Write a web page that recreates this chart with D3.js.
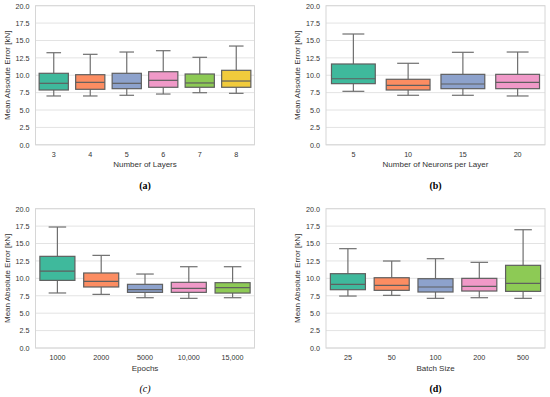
<!DOCTYPE html>
<html>
<head>
<meta charset="utf-8">
<script src="https://cdn.jsdelivr.net/npm/d3@7"></script>
<style>
  body { margin: 0; background: #fff; }
  svg { display: block; }
  text { font-family: "Liberation Sans", Arial, sans-serif; fill: #333; }
  .caption { font-family: "Liberation Serif", "Times New Roman", serif; fill: #000; }
</style>
</head>
<body>
<svg id="chart"></svg>
<script>
// five-number summaries: [low whisker, Q1, median, Q3, high whisker]
var layersCats = ["3", "4", "5", "6", "7", "8"];
var layersStats = [
    [7.02, 7.88, 8.84, 10.28, 13.24],
    [7.02, 7.98, 8.98, 10.08, 13.01],
    [7.12, 8.07, 8.84, 10.28, 13.34],
    [7.30, 8.27, 9.27, 10.51, 13.53],
    [7.49, 8.27, 8.89, 10.18, 12.58],
    [7.40, 8.27, 9.17, 10.71, 14.20]
];

var neuronsCats = ["5", "10", "15", "20"];
var neuronsStats = [
    [7.69, 8.79, 9.50, 11.62, 15.93],
    [7.12, 7.88, 8.55, 9.42, 11.72],
    [7.12, 8.07, 8.74, 10.13, 13.30],
    [7.02, 8.07, 8.98, 10.13, 13.34]
];

var epochsCats = ["1000", "2000", "5000", "10,000", "15,000"];
var epochsStats = [
    [7.90, 9.71, 11.05, 13.16, 17.37],
    [7.70, 8.76, 9.57, 10.77, 13.30],
    [7.22, 7.99, 8.37, 9.14, 10.62],
    [7.13, 7.99, 8.57, 9.43, 11.67],
    [7.22, 7.89, 8.66, 9.38, 11.67]
];

var batchCats = ["25", "50", "100", "200", "500"];
var batchStats = [
    [7.46, 8.37, 9.14, 10.67, 14.26],
    [7.56, 8.28, 9.00, 10.09, 12.49],
    [7.13, 8.04, 8.76, 9.95, 12.82],
    [7.22, 8.18, 8.86, 10.00, 12.30],
    [7.13, 8.13, 9.28, 11.87, 16.98]
];

var yTicks = [0, 2.5, 5, 7.5, 10, 12.5, 15, 17.5, 20];
var palette = ["#3fb99c", "#fc8d62", "#8da2cc", "#f099c8", "#8dca55", "#f1cb3c"];

var svg = d3.select("#chart")
    .attr("width", 550)
    .attr("height", 397);

//box is the pixel rectangle of the plot area
var drawPanel = function (box, cats, stats, xTitle, caption, italicCap) {
    var xScale = d3.scaleBand()
        .domain(cats)
        .range([box.left, box.right]);

    var yScale = d3.scaleLinear()
        .domain([0, 20])
        .range([box.bottom, box.top]);

    var g = svg.append("g");

    // grid
    g.selectAll("line.grid")
        .data(yTicks)
        .enter()
        .append("line")
        .attr("x1", box.left)
        .attr("x2", box.right)
        .attr("y1", function (d) { return yScale(d); })
        .attr("y2", function (d) { return yScale(d); })
        .attr("stroke", "#e3e3e3")
        .attr("stroke-width", 1);

    // frame
    g.append("rect")
        .attr("x", box.left)
        .attr("y", box.top)
        .attr("width", box.right - box.left)
        .attr("height", box.bottom - box.top)
        .attr("fill", "none")
        .attr("stroke", "#d6d6d6")
        .attr("stroke-width", 1);

    var yAxis = d3.axisLeft(yScale)
        .tickValues(yTicks)
        .tickFormat(d3.format(".1f"))
        .tickSize(0)
        .tickPadding(6);

    var ya = g.append("g")
        .attr("transform", "translate(" + box.left + ",0)")
        .call(yAxis);
    ya.select(".domain").remove();
    ya.selectAll("text")
        .attr("font-size", 7.2)
        .attr("font-family", "Liberation Sans, Arial, sans-serif")
        .attr("fill", "#333");

    var xAxis = d3.axisBottom(xScale)
        .tickSize(0)
        .tickPadding(7);

    var xa = g.append("g")
        .attr("transform", "translate(0," + box.bottom + ")")
        .call(xAxis);
    xa.select(".domain").remove();
    xa.selectAll("text")
        .attr("font-size", 7.2)
        .attr("font-family", "Liberation Sans, Arial, sans-serif")
        .attr("fill", "#333");

    var boxes = g.selectAll("g.box")
        .data(stats)
        .enter()
        .append("g")
        .classed("box", true);

    var bw = xScale.bandwidth() * 0.8;
    var cx = function (d, i) { return xScale(cats[i]) + xScale.bandwidth() / 2; };

    // whiskers
    boxes.append("line")
        .attr("x1", cx).attr("x2", cx)
        .attr("y1", function (d) { return yScale(d[4]); })
        .attr("y2", function (d) { return yScale(d[3]); })
        .attr("stroke", "#6f6f6f").attr("stroke-width", 1.2);
    boxes.append("line")
        .attr("x1", cx).attr("x2", cx)
        .attr("y1", function (d) { return yScale(d[1]); })
        .attr("y2", function (d) { return yScale(d[0]); })
        .attr("stroke", "#6f6f6f").attr("stroke-width", 1.2);
    // caps
    [0, 4].forEach(function (k) {
        boxes.append("line")
            .attr("x1", function (d, i) { return cx(d, i) - bw / 4; })
            .attr("x2", function (d, i) { return cx(d, i) + bw / 4; })
            .attr("y1", function (d) { return yScale(d[k]); })
            .attr("y2", function (d) { return yScale(d[k]); })
            .attr("stroke", "#6f6f6f").attr("stroke-width", 1.2);
    });

    boxes.append("rect")
        .attr("x", function (d, i) { return cx(d, i) - bw / 2; })
        .attr("y", function (d) { return yScale(d[3]); })
        .attr("width", bw)
        .attr("height", function (d) { return yScale(d[1]) - yScale(d[3]); })
        .attr("fill", function (d, i) { return palette[i]; })
        .attr("stroke", "#5f5f5f")
        .attr("stroke-width", 1.2);

    boxes.append("line")
        .attr("x1", function (d, i) { return cx(d, i) - bw / 2; })
        .attr("x2", function (d, i) { return cx(d, i) + bw / 2; })
        .attr("y1", function (d) { return yScale(d[2]); })
        .attr("y2", function (d) { return yScale(d[2]); })
        .attr("stroke", "#5f5f5f").attr("stroke-width", 1.2);

    // labels
    g.append("text")
        .text(xTitle)
        .attr("text-anchor", "middle")
        .attr("font-size", 8)
        .attr("x", (box.left + box.right) / 2)
        .attr("y", box.bottom + 22.5);

    g.append("text")
        .text("Mean Absolute Error [kN]")
        .attr("text-anchor", "middle")
        .attr("font-size", 8)
        .attr("transform", "translate(" + (box.left - 26) + "," + ((box.top + box.bottom) / 2) + ") rotate(-90)");

    g.append("text")
        .text(caption)
        .classed("caption", true)
        .attr("text-anchor", "middle")
        .attr("font-size", 10)
        .attr("font-weight", italicCap ? "normal" : "bold")
        .attr("font-style", italicCap ? "italic" : "normal")
        .attr("x", (box.left + box.right) / 2)
        .attr("y", box.bottom + 44);
}

drawPanel({left: 35.5, right: 254.5, top: 5.7, bottom: 144.8}, layersCats, layersStats, "Number of Layers", "(a)", false);
drawPanel({left: 326, right: 545, top: 5.7, bottom: 144.8}, neuronsCats, neuronsStats, "Number of Neurons per Layer", "(b)", false);
drawPanel({left: 35.5, right: 254.5, top: 208.7, bottom: 348}, epochsCats, epochsStats, "Epochs", "(c)", true);
drawPanel({left: 326, right: 545, top: 208.7, bottom: 348}, batchCats, batchStats, "Batch Size", "(d)", false);
</script>
</body>
</html>
